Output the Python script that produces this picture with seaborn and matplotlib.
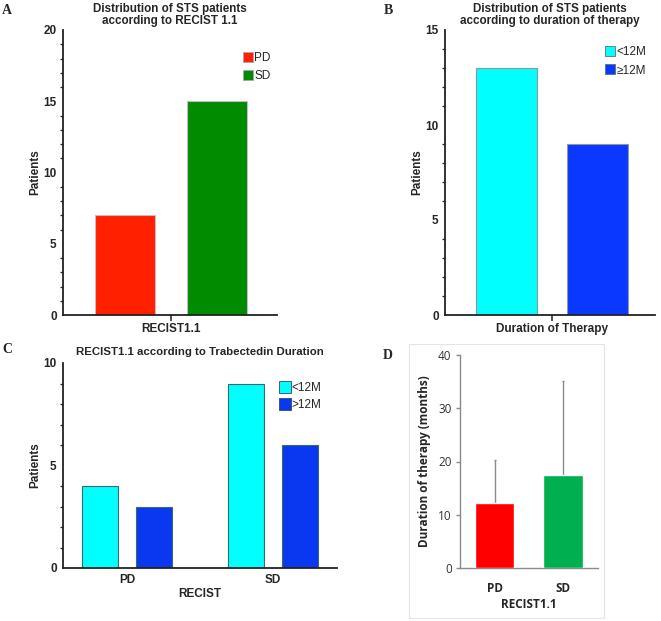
import matplotlib
matplotlib.use("Agg")
import matplotlib.pyplot as plt
from matplotlib.patches import Rectangle
from matplotlib.lines import Line2D
from matplotlib.ticker import MultipleLocator
import seaborn as sns
import pandas as pd

sns.set_theme(style="white")
plt.rcParams['font.family'] = ['Liberation Sans', 'DejaVu Sans']

# ---- Data ----
# Panel A
a_categories = ["PD", "SD"]
a_values = [7, 15]
a_xlabel = "RECIST1.1"
# Panel B
b_categories = ["<12M", "≥12M"]
b_values = [13, 9]
b_xlabel = "Duration of Therapy"
# Panel C
c_groups = ["PD", "PD", "SD", "SD"]
c_duration = ["<12M", ">12M", "<12M", ">12M"]
c_values = [4, 3, 9, 6]
# Panel D
d_categories = ["PD", "SD"]
d_means = [12.2, 17.5]
d_err_upper = [8.0, 17.7]

W, H = 661, 621
fig = plt.figure(figsize=(W / 100, H / 100), dpi=100)

FS = 8.5


def add_ax(x0, y0, x1, y1):
    return fig.add_axes([x0 / W, 1 - y1 / H, (x1 - x0) / W, (y1 - y0) / H])


def style_prism(ax):
    for s in ["top", "right"]:
        ax.spines[s].set_visible(False)
    for s in ["left", "bottom"]:
        ax.spines[s].set_color("#222222")
        ax.spines[s].set_linewidth(1.3)
    ax.tick_params(axis="y", which="major", direction="out", length=4, width=1.1,
                   color="#222222", labelsize=FS, pad=0.5)
    ax.tick_params(axis="y", which="minor", direction="out", length=2.5, width=0.9,
                   color="#222222", left=True)
    ax.tick_params(axis="x", which="major", direction="out", length=4, width=1.1,
                   color="#222222", labelsize=FS, pad=2, bottom=True)
    for lab in ax.get_yticklabels() + ax.get_xticklabels():
        lab.set_fontweight("bold")


def square_legend(ax, labels, colors, edge, loc_xy, fs=8.5, ms=6.5, sp=0.55):
    handles = [Line2D([0], [0], marker="s", linestyle="none", markersize=ms,
                      markerfacecolor=c, markeredgecolor=edge, markeredgewidth=0.6)
               for c in colors]
    ax.legend(handles, labels, loc="upper left", bbox_to_anchor=loc_xy, frameon=False,
              fontsize=fs, handlelength=0.8, handletextpad=0.15, labelspacing=sp,
              borderaxespad=0)


# ---- Panel A ----
axA = add_ax(63, 30, 277, 315)
dfA = pd.DataFrame({"cat": a_categories, "val": a_values})
a_colors = ["#ff2000", "#008c00"]
sns.barplot(data=dfA, x="cat", y="val", hue="cat", palette=a_colors, width=0.656,
            saturation=1, edgecolor="#c8b8c8", linewidth=0.8, legend=False, ax=axA)
axA.set_xlim(-0.678, 1.661)
axA.set_ylim(0, 20)
axA.yaxis.set_major_locator(MultipleLocator(5))
axA.yaxis.set_minor_locator(MultipleLocator(1))
axA.set_xticks([0.5])
axA.set_xticklabels([a_xlabel])
axA.set_xlabel("")
axA.set_ylabel("Patients", fontsize=FS, fontweight="bold", labelpad=1.5)
style_prism(axA)
axA.set_title("Distribution of STS patients\naccording to RECIST 1.1", fontsize=8.4,
              fontweight="bold", pad=4, linespacing=1.05)
square_legend(axA, a_categories, a_colors, "#b0a0b0", (0.82, 0.94))

# ---- Panel B ----
axB = add_ax(445, 30, 655, 315)
dfB = pd.DataFrame({"cat": b_categories, "val": b_values})
b_colors = ["#00ffff", "#0a38ff"]
sns.barplot(data=dfB, x="cat", y="val", hue="cat", palette=b_colors, width=0.674,
            saturation=1, edgecolor="#8a9a9a", linewidth=0.8, legend=False, ax=axB)
axB.set_xlim(-0.68, 1.64)
axB.set_ylim(0, 15)
axB.yaxis.set_major_locator(MultipleLocator(5))
axB.yaxis.set_minor_locator(MultipleLocator(1))
axB.set_xticks([0.5])
axB.set_xticklabels([b_xlabel])
axB.set_xlabel("")
axB.set_ylabel("Patients", fontsize=FS, fontweight="bold", labelpad=1.5)
style_prism(axB)
axB.set_title("Distribution of STS patients\naccording to duration of therapy", fontsize=8.4,
              fontweight="bold", pad=4, linespacing=1.05)
square_legend(axB, b_categories, b_colors, "#607070", (0.74, 0.96))

# ---- Panel C ----
axC = add_ax(63, 363, 337, 568)
dfC = pd.DataFrame({"grp": c_groups, "dur": c_duration, "val": c_values})
c_colors = ["#00ffff", "#0a38f0"]
sns.barplot(data=dfC, x="grp", y="val", hue="dur", palette=c_colors, width=0.74,
            gap=0.333, saturation=1, edgecolor="#3a6a6a", linewidth=0.8, ax=axC)
axC.set_xlim(-0.438, 1.438)
axC.set_ylim(0, 10)
axC.yaxis.set_major_locator(MultipleLocator(5))
axC.yaxis.set_minor_locator(MultipleLocator(1))
axC.set_xlabel("RECIST", fontsize=FS, fontweight="bold", labelpad=2)
axC.set_ylabel("Patients", fontsize=FS, fontweight="bold", labelpad=1.5)
style_prism(axC)
axC.tick_params(axis="x", length=0, pad=4)
axC.set_title("RECIST1.1 according to Trabectedin Duration", fontsize=8.2,
              fontweight="bold", pad=6)
axC.get_legend().remove()
square_legend(axC, ["<12M", ">12M"], c_colors, "#2a4a6a", (0.775, 0.93), ms=8, sp=0.4)

# ---- Panel D ----
fig.patches.append(Rectangle((409 / W, 1 - 618 / H), (604 - 409) / W, (618 - 344) / H,
                             transform=fig.transFigure, fill=False,
                             edgecolor="#e4e4e4", linewidth=0.8))
axD = add_ax(460, 355, 598, 568)
dfD = pd.DataFrame({"cat": d_categories, "val": d_means})
d_colors = ["#ff0000", "#00b050"]
sns.barplot(data=dfD, x="cat", y="val", hue="cat", palette=d_colors, width=0.58,
            saturation=1, legend=False, ax=axD, zorder=3)
axD.errorbar(range(len(d_categories)), d_means, yerr=[[0] * len(d_means), d_err_upper],
             fmt="none", ecolor="#8a8a8a", elinewidth=1.0, capsize=1, capthick=1, zorder=2)
axD.set_xlim(-0.504, 1.511)
axD.set_ylim(0, 40)
axD.yaxis.set_major_locator(MultipleLocator(10))
for s in ["top", "right"]:
    axD.spines[s].set_visible(False)
for s in ["left", "bottom"]:
    axD.spines[s].set_color("#8a8a8a")
    axD.spines[s].set_linewidth(1.0)
axD.tick_params(axis="y", direction="out", length=3, width=1, color="#8a8a8a",
                labelsize=8.5, pad=3, left=True)
axD.tick_params(axis="x", length=0, labelsize=8.5, pad=10)
for lab in axD.get_yticklabels():
    lab.set_fontfamily("Open Sans")
    lab.set_color("#333333")
for lab in axD.get_xticklabels():
    lab.set_fontfamily("Open Sans")
    lab.set_fontweight("bold")
axD.set_xlabel("RECIST1.1", fontsize=8.5, fontweight="bold", family="Open Sans", labelpad=2)
axD.set_ylabel("Duration of therapy (months)", fontsize=8.5, fontweight="bold",
               family="Open Sans", labelpad=5)

# ---- Panel letters ----
for letter, x, y in [("A", 2, 14), ("B", 384, 14), ("C", 2, 353), ("D", 383, 359)]:
    fig.text(x / W, 1 - y / H, letter, fontsize=10, fontweight="bold",
             family=["Liberation Serif", "DejaVu Serif"], ha="left", va="baseline")

fig.savefig("out.png", dpi=100)
